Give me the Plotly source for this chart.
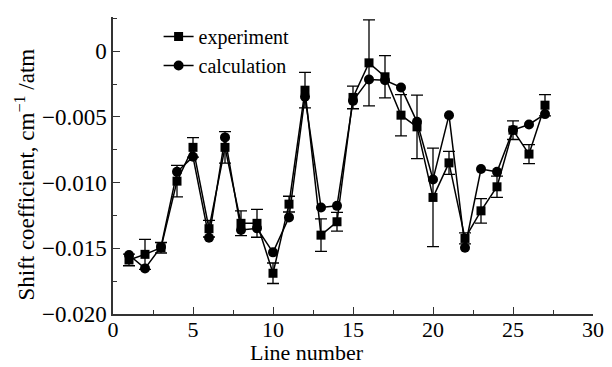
import plotly.graph_objects as go

line_no = list(range(1, 28))
experiment = [-0.01589, -0.01546, -0.01496, -0.00989, -0.00732, -0.01351, -0.00732, -0.0131, -0.0131,
              -0.0169, -0.01164, -0.00297, -0.0140, -0.01298, -0.00352, -0.00089, -0.00195, -0.00487,
              -0.00576, -0.01113, -0.0085, -0.01425, -0.01215, -0.01032, -0.00601, -0.00783, -0.00411]
exp_error = [0.00044, 0.00114, 0.0004, 0.0012, 0.00074, 0.00063, 0.0012, 0.00094, 0.00106,
             0.00078, 0.0006, 0.00135, 0.00124, 0.00071, 0.00086, 0.00327, 0.00161, 0.00157,
             0.00242, 0.00375, 0.00087, 0.00042, 0.00093, 0.00081, 0.00071, 0.00072, 0.00081]
calculation = [-0.01551, -0.01653, -0.0149, -0.00918, -0.00804, -0.0142, -0.00656, -0.01361, -0.01348,
               -0.01531, -0.01265, -0.00347, -0.01189, -0.01177, -0.00378, -0.00215, -0.00221, -0.00276,
               -0.00538, -0.00976, -0.00487, -0.01496, -0.00897, -0.00918, -0.006, -0.00558, -0.00479]

y_ticks = [0, -0.005, -0.010, -0.015, -0.020]
y_tick_text = ["0", "\u22120.005", "\u22120.010", "\u22120.015", "\u22120.020"]
x_ticks = [0, 5, 10, 15, 20, 25, 30]

FONT = "Liberation Serif"
TICK_FS = 23
XTICK_FS = 22
LEG_FS = 20
TITLE_FS = 23

fig = go.Figure()
fig.add_trace(go.Scatter(
    x=line_no, y=experiment, name="experiment", mode="lines+markers",
    line=dict(color="black", width=1.5),
    marker=dict(symbol="square", size=9, color="black"),
    error_y=dict(type="data", array=exp_error, visible=True, color="black", thickness=1.3, width=6),
))
fig.add_trace(go.Scatter(
    x=line_no, y=calculation, name="calculation", mode="lines+markers",
    line=dict(color="black", width=1.5),
    marker=dict(symbol="circle", size=10, color="black"),
))

fig.update_layout(
    width=612, height=367,
    margin=dict(l=105, r=27, t=9, b=61),
    paper_bgcolor="white", plot_bgcolor="white",
    font=dict(family=FONT, size=TICK_FS, color="black"),
    showlegend=True,
    legend=dict(x=0.095, y=1.0, xanchor="left", yanchor="top", bgcolor="rgba(0,0,0,0)",
                font=dict(family=FONT, size=LEG_FS), tracegroupgap=0, itemwidth=30),
    xaxis=dict(range=[0, 30], tickvals=x_ticks, showline=True, linecolor="#333", linewidth=1.5,
               ticks="inside", ticklen=7, tickwidth=1.2, tickcolor="#333", showgrid=False, zeroline=False,
               minor=dict(ticks="inside", ticklen=4, dtick=2.5, tickcolor="#333", tickwidth=1.2),
               tickfont=dict(size=XTICK_FS), ticklabelstandoff=-5),
    yaxis=dict(range=[-0.020, 0.0026], tickvals=y_ticks, ticktext=y_tick_text, showline=True,
               linecolor="#333", linewidth=1.5, ticks="inside", ticklen=7, tickwidth=1.2, tickcolor="#333",
               showgrid=False, zeroline=False,
               minor=dict(ticks="inside", ticklen=4, dtick=0.0025, tickcolor="#333", tickwidth=1.2),
               tickfont=dict(size=TICK_FS)),
    annotations=[
        dict(text="Line number", xref="paper", yref="paper", x=0.404, y=-0.13,
             xanchor="center", yanchor="middle", showarrow=False, font=dict(size=22)),
        dict(text="Shift coefficient, cm<sup>\u22121</sup> /atm", xref="paper", yref="paper",
             x=-0.183, y=0.47, xanchor="center", yanchor="middle", textangle=-90,
             showarrow=False, font=dict(size=TITLE_FS)),
    ],
)

fig.write_html("out.html")
